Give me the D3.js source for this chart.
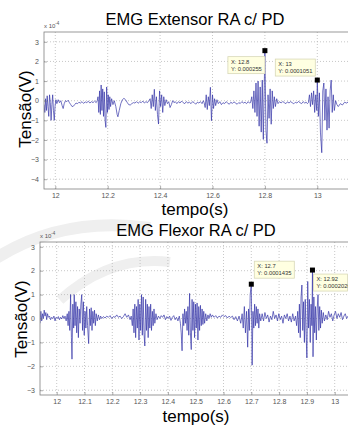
<!DOCTYPE html>
<html>
<head>
<meta charset="utf-8">
<script src="https://cdn.jsdelivr.net/npm/d3@7"></script>
<style>
  body { margin: 0; background: #fff; }
  svg { display: block; font-family: 'Liberation Sans', Arial, sans-serif; }
</style>
</head>
<body>
<div id="chart"></div>
<script>
// values in units of 1e-4 V, time in s
const extSignal = [
  [11.957,-0.2],[11.960,-0.6],[11.963,0.1],[11.966,-0.5],[11.969,0.25],[11.972,-0.3],[11.975,-0.8],[11.978,0.3],
  [11.981,-0.1],[11.984,-1.0],[11.987,-0.2],[11.990,0.3],[11.993,-0.5],[11.996,-1.0],[11.999,-0.3],[12.002,0.05],
  [12.006,-0.15],[12.011,0.05],[12.016,-0.1],[12.021,0.0],[12.026,-0.25],[12.030,-0.4],[12.034,-0.15],[12.039,0.0],
  [12.044,-0.05],[12.049,0.02],[12.054,-0.1],[12.059,-0.2],[12.064,-0.3],[12.069,-0.28],[12.074,-0.2],[12.079,-0.12],
  [12.085,-0.15],[12.090,-0.08],[12.096,-0.12],[12.102,-0.05],[12.108,-0.14],[12.114,-0.06],[12.120,-0.1],[12.126,-0.03],
  [12.132,-0.12],[12.138,-0.05],[12.144,-0.1],[12.150,-0.02],[12.156,-0.1],[12.160,0.0],
  [12.163,0.2],[12.166,-0.6],[12.169,0.5],[12.172,-0.7],[12.175,0.8],[12.178,-0.5],[12.181,0.6],[12.184,-0.8],
  [12.187,0.45],[12.190,-1.0],[12.193,-1.36],[12.196,0.7],[12.199,-0.6],[12.202,0.3],[12.205,-0.45],[12.208,0.2],
  [12.211,-0.3],[12.215,0.1],[12.220,-0.2],[12.225,0.0],[12.231,-0.3],[12.236,-0.7],[12.239,-0.82],[12.244,-0.5],
  [12.250,-0.15],[12.256,0.05],[12.262,0.12],[12.268,0.05],[12.274,-0.08],[12.280,-0.2],[12.286,-0.22],[12.292,-0.15],
  [12.298,-0.1],[12.304,-0.12],[12.310,-0.05],[12.316,-0.13],[12.322,-0.06],[12.328,-0.1],[12.334,-0.02],[12.340,-0.12],
  [12.346,-0.05],[12.352,-0.1],[12.357,0.0],
  [12.362,0.1],[12.366,-0.4],[12.370,0.3],[12.374,-0.3],[12.378,0.58],[12.382,-0.5],[12.386,0.2],[12.390,-0.7],
  [12.394,-1.19],[12.398,0.5],[12.402,-0.3],[12.406,0.3],[12.410,-0.6],[12.414,0.2],[12.418,-0.25],[12.423,0.05],
  [12.428,-0.15],[12.433,-0.05],[12.438,-0.35],[12.443,-0.2],[12.448,0.0],[12.453,-0.1],[12.458,-0.05],[12.464,-0.15],
  [12.470,-0.05],[12.476,-0.12],[12.482,-0.02],[12.488,-0.1],[12.494,-0.15],[12.500,-0.05],[12.506,-0.12],[12.512,-0.08],
  [12.518,-0.15],[12.524,-0.05],[12.530,-0.1],[12.536,-0.18],[12.542,-0.08],[12.548,-0.12],[12.554,-0.05],[12.560,-0.15],
  [12.565,0.0],
  [12.568,-0.1],[12.572,-0.35],[12.576,0.3],[12.580,-0.45],[12.584,0.2],[12.588,-0.25],[12.592,0.68],[12.596,-1.02],
  [12.600,0.3],[12.604,-0.4],[12.608,0.1],[12.612,-0.25],[12.617,0.05],[12.622,-0.15],[12.628,-0.05],[12.634,-0.2],
  [12.640,-0.1],[12.646,-0.15],[12.652,-0.05],[12.658,-0.12],[12.664,-0.18],[12.670,-0.08],[12.676,-0.14],[12.682,-0.06],
  [12.688,-0.12],[12.694,-0.18],[12.700,-0.1],[12.706,-0.14],[12.712,-0.05],[12.718,-0.12],[12.724,-0.08],[12.730,-0.15],
  [12.736,-0.05],[12.741,-0.12],
  [12.745,-0.1],[12.750,0.2],[12.754,-0.4],[12.758,0.5],[12.762,-0.6],[12.766,0.9],[12.770,-0.8],[12.774,1.0],
  [12.778,-1.3],[12.782,0.7],[12.786,-1.6],[12.790,1.05],[12.794,-1.97],[12.800,2.55],[12.804,-1.5],[12.808,-2.17],
  [12.812,0.3],[12.816,-0.9],[12.820,0.6],[12.824,-1.2],[12.828,0.5],[12.832,-0.4],[12.836,0.2],[12.840,-0.3],
  [12.845,0.1],[12.850,-0.15],[12.856,-0.05],[12.862,-0.12],[12.868,-0.04],[12.874,-0.1],[12.880,-0.15],[12.886,-0.06],
  [12.892,-0.12],[12.898,-0.05],[12.904,-0.1],[12.910,-0.16],[12.916,-0.08],[12.922,-0.12],[12.928,-0.04],[12.934,-0.1],
  [12.940,-0.15],[12.946,-0.05],[12.952,-0.12],[12.958,-0.08],[12.962,-0.15],
  [12.966,-0.1],[12.970,0.3],[12.974,-0.3],[12.978,0.4],[12.982,-0.2],[12.986,0.5],[12.990,-0.6],[12.994,0.3],
  [12.998,-0.5],[13.000,1.051],[13.004,-0.8],[13.008,0.4],[13.012,-1.6],[13.017,-2.65],[13.021,0.5],[13.025,0.9],
  [13.029,-1.0],[13.033,0.6],[13.037,-1.5],[13.041,0.2],[13.045,-1.4],[13.049,0.5],[13.053,1.05],[13.057,-0.6],
  [13.061,0.3],[13.065,-0.5],[13.070,0.0],[13.075,-0.2],[13.080,-0.3],[13.088,-0.15],[13.096,-0.22],[13.104,-0.08],
  [13.112,-0.12],[13.120,-0.05]
];

const flexSignal = [
  [11.940,-0.2],[11.943,0.3],[11.946,-0.1],[11.949,0.2],[11.952,0.0],[11.955,0.35],[11.958,0.1],[11.961,0.25],
  [11.964,-0.05],[11.967,0.2],[11.970,0.05],[11.974,0.1],[11.978,-0.05],[11.982,0.05],[11.986,0.0],[11.990,0.1],
  [11.994,-0.1],[11.998,0.05],[12.002,0.0],[12.006,0.08],[12.010,-0.05],[12.014,0.05],[12.018,-0.02],[12.022,0.12],
  [12.026,0.0],[12.030,0.1],[12.034,-0.1],[12.038,0.2],[12.041,-0.3],
  [12.044,0.3],[12.047,-0.5],[12.050,1.0],[12.053,-0.8],[12.055,-1.7],[12.058,0.6],[12.061,-0.4],[12.063,1.0],
  [12.066,-0.3],[12.069,0.7],[12.072,-0.6],[12.075,0.5],[12.078,-0.8],[12.081,0.4],[12.084,-0.2],[12.087,0.6],
  [12.090,1.0],[12.093,-0.5],[12.096,0.7],[12.099,-0.7],[12.102,0.3],[12.105,-0.4],[12.108,0.5],[12.111,-0.3],
  [12.115,-1.05],[12.118,0.4],[12.121,-0.3],[12.124,0.45],[12.127,-0.5],[12.130,0.3],[12.133,-0.2],[12.136,0.35],
  [12.139,-0.3],[12.142,0.2],[12.146,-0.1],[12.150,0.15],[12.154,-0.05],[12.158,0.1],[12.162,0.0],
  [12.168,0.08],[12.174,0.02],[12.180,0.1],[12.186,0.05],[12.192,0.12],[12.198,0.0],[12.204,0.08],[12.210,0.05],
  [12.216,0.15],[12.222,0.05],[12.228,0.1],[12.234,0.0],[12.240,0.08],[12.246,0.2],[12.252,0.05],[12.258,0.15],
  [12.264,-0.05],[12.268,0.1],
  [12.272,-0.3],[12.275,0.4],[12.278,-0.6],[12.281,0.6],[12.284,-0.8],[12.287,0.5],[12.290,-0.4],[12.293,0.8],
  [12.296,-0.9],[12.299,0.6],[12.302,-0.5],[12.305,1.0],[12.308,-0.7],[12.311,0.9],[12.314,-0.6],[12.317,-1.15],
  [12.320,0.8],[12.323,-0.5],[12.326,0.6],[12.329,-0.8],[12.332,0.5],[12.335,-0.4],[12.338,0.6],[12.341,-0.5],
  [12.344,0.3],[12.347,-0.3],[12.350,0.4],[12.353,-0.2],[12.357,0.2],[12.361,-0.05],
  [12.366,0.1],[12.371,0.0],[12.376,0.12],[12.381,0.05],[12.386,0.15],[12.391,-0.05],[12.396,0.08],[12.401,0.0],
  [12.406,0.1],[12.411,-0.08],[12.416,0.05],[12.421,0.12],[12.426,-0.05],[12.431,0.05],[12.436,-0.1],[12.441,0.1],
  [12.445,-0.2],
  [12.448,-0.6],[12.451,-1.35],[12.454,0.2],[12.457,-0.3],[12.460,0.4],[12.463,-0.2],[12.466,0.3],[12.469,-0.5],
  [12.472,0.5],[12.475,-0.7],[12.478,1.05],[12.481,-0.6],[12.484,-1.3],[12.487,0.8],[12.490,-0.5],[12.493,0.7],
  [12.496,-0.8],[12.499,0.6],[12.502,-0.4],[12.505,0.65],[12.508,-0.9],[12.511,0.5],[12.514,-0.5],[12.517,0.55],
  [12.520,-0.3],[12.523,0.4],[12.526,-0.25],[12.529,0.3],[12.532,-0.2],[12.536,0.2],[12.540,-0.1],[12.544,0.15],
  [12.548,0.0],[12.552,0.2],[12.556,0.05],[12.560,0.15],
  [12.566,0.05],[12.572,0.12],[12.578,0.02],[12.584,0.1],[12.590,0.05],[12.596,0.15],[12.602,0.08],[12.608,0.12],
  [12.614,0.02],[12.620,0.1],[12.626,0.04],[12.632,0.1],[12.638,-0.05],[12.644,0.08],[12.650,-0.1],[12.656,0.1],
  [12.662,-0.2],[12.667,0.2],
  [12.671,-0.4],[12.675,0.5],[12.679,-0.6],[12.683,0.3],[12.687,-1.2],[12.690,0.4],[12.693,-0.5],[12.696,1.0],
  [12.700,1.435],[12.703,-1.95],[12.706,0.3],[12.709,-0.4],[12.712,0.6],[12.715,-0.3],[12.718,0.5],[12.721,-0.2],
  [12.724,0.4],[12.727,-0.4],[12.730,0.2],[12.734,-0.1],
  [12.739,0.2],[12.744,-0.1],[12.749,0.25],[12.754,0.0],[12.759,0.15],[12.764,-0.15],[12.769,0.1],[12.774,-0.05],
  [12.779,0.3],[12.784,0.0],[12.789,0.15],[12.794,-0.1],[12.799,0.2],[12.804,-0.05],[12.809,0.1],[12.814,-0.2],
  [12.819,0.15],[12.824,0.0],[12.829,0.2],[12.834,-0.1],[12.839,0.1],[12.844,-0.15],[12.849,0.2],[12.854,-0.1],
  [12.859,0.1],[12.863,-0.3],
  [12.867,0.3],[12.870,-0.6],[12.873,0.6],[12.876,-0.8],[12.879,0.9],[12.882,1.4],[12.885,-0.5],[12.888,0.7],
  [12.891,-1.0],[12.894,0.8],[12.897,-0.6],[12.900,-1.65],[12.903,1.55],[12.906,-0.4],[12.909,0.8],[12.912,-1.0],
  [12.915,0.6],[12.918,-0.3],[12.920,2.03],[12.922,-1.6],[12.925,0.9],[12.928,-0.6],[12.931,0.5],[12.934,-0.9],
  [12.937,0.4],[12.940,1.0],[12.943,-0.5],[12.946,0.5],[12.949,-0.4],[12.952,0.35],[12.955,-0.2],[12.959,0.25],
  [12.963,-0.1],
  [12.968,0.15],[12.973,-0.05],[12.978,0.3],[12.983,0.05],[12.988,0.2],[12.993,-0.1],[12.998,0.15],[13.003,0.3],
  [13.008,0.0],[13.013,0.2],[13.018,0.05],[13.023,0.25],[13.028,-0.05],[13.033,0.1],[13.038,0.2],[13.043,0.0],
  [13.048,0.1],[13.052,0.05]
];

const extXTicks = [12, 12.2, 12.4, 12.6, 12.8, 13];
const extYTicks = [-4, -3, -2, -1, 0, 1, 2, 3];
const flexXTicks = [12, 12.1, 12.2, 12.3, 12.4, 12.5, 12.6, 12.7, 12.8, 12.9, 13];
const flexYTicks = [-3, -2, -1, 0, 1, 2, 3];

// data tips: [x, y (1e-4 V), Y label]
const extTips = [[12.8, 2.55, '0.000255'], [13, 1.051, '0.0001051']];
const flexTips = [[12.7, 1.435, '0.0001435'], [12.92, 2.026, '0.0002026']];

const W = 348, H = 427;
const svg = d3.select('#chart').append('svg').attr('width', W).attr('height', H);

// faint publisher watermark shapes behind the lower plot
const wm = svg.append('g').attr('fill', 'none').attr('stroke', '#efefef');
wm.append('path').attr('d', 'M -10 262 Q 60 215 150 228').attr('stroke-width', 12);
wm.append('path').attr('d', 'M 60 300 Q 110 255 170 262').attr('stroke-width', 10);

function drawPanel(cfg) {
  const x = d3.scaleLinear().domain([12, 13]).range(cfg.xr);
  const y = d3.scaleLinear().domain(cfg.yd).range([cfg.bottom, cfg.top]);
  const g = svg.append('g');

  const clipId = 'clip' + cfg.id;
  svg.append('clipPath').attr('id', clipId)
    .append('rect')
    .attr('x', cfg.left).attr('y', cfg.top)
    .attr('width', cfg.right - cfg.left).attr('height', cfg.bottom - cfg.top);

  // grid
  g.selectAll('.gx').data(cfg.xTicks).join('line')
    .attr('x1', (d) => x(d)).attr('x2', (d) => x(d))
    .attr('y1', cfg.top).attr('y2', cfg.bottom)
    .attr('stroke', '#b0b0b0').attr('stroke-width', 0.7)
    .attr('stroke-dasharray', '1,2');
  g.selectAll('.gy').data(cfg.yTicks).join('line')
    .attr('x1', cfg.left).attr('x2', cfg.right)
    .attr('y1', (d) => y(d)).attr('y2', (d) => y(d))
    .attr('stroke', '#b0b0b0').attr('stroke-width', 0.7)
    .attr('stroke-dasharray', '1,2');

  // signal
  const line = d3.line().x((d) => x(d[0])).y((d) => y(d[1]));
  g.append('path')
    .datum(cfg.signal)
    .attr('clip-path', `url(#${clipId})`)
    .attr('fill', 'none')
    .attr('stroke', '#3535a8')
    .attr('stroke-width', 0.7)
    .attr('stroke-linejoin', 'round')
    .attr('d', line);

  // axes (ticks inward, labels outside)
  const axX = g.append('g')
    .attr('transform', `translate(0,${cfg.bottom})`)
    .call(d3.axisBottom(x).tickValues(cfg.xTicks).tickSizeInner(-3).tickSizeOuter(0)
      .tickPadding(4).tickFormat(d3.format('~g')));
  const axY = g.append('g')
    .attr('transform', `translate(${cfg.left},0)`)
    .call(d3.axisLeft(y).tickValues(cfg.yTicks).tickSizeInner(-3).tickSizeOuter(0)
      .tickPadding(5).tickFormat(d3.format('~g')));
  [axX, axY].forEach((a) => {
    a.select('.domain').remove();
    a.selectAll('line').attr('stroke', '#777').attr('stroke-width', 0.6);
    a.selectAll('text').attr('fill', '#555').attr('font-size', 7)
      .attr('font-family', 'Liberation Sans, Arial, sans-serif');
  });

  // box
  g.append('rect')
    .attr('x', cfg.left).attr('y', cfg.top)
    .attr('width', cfg.right - cfg.left).attr('height', cfg.bottom - cfg.top)
    .attr('fill', 'none').attr('stroke', '#808080').attr('stroke-width', 0.8);

  // exponent label
  const ex = g.append('text').attr('x', cfg.left).attr('y', cfg.top - 4)
    .attr('font-size', 6).attr('fill', '#555');
  ex.append('tspan').text('x 10');
  ex.append('tspan').attr('dy', -3).attr('font-size', 4.5).text('-4');

  // title, labels
  g.append('text').attr('x', cfg.titleX).attr('y', cfg.titleY)
    .attr('text-anchor', 'middle').attr('font-size', 16.5).attr('fill', '#000')
    .text(cfg.title);
  g.append('text').attr('x', cfg.titleX).attr('y', cfg.xlabY)
    .attr('text-anchor', 'middle').attr('font-size', 17).attr('fill', '#000')
    .text('tempo(s)');
  g.append('text')
    .attr('transform', `translate(${cfg.ylabX},${cfg.ylabY}) rotate(-90)`)
    .attr('text-anchor', 'middle').attr('font-size', 17).attr('fill', '#000')
    .text('Tensão(V)');

  // data tips
  cfg.tips.forEach((t, i) => {
    const mx = x(t[0]), my = y(t[1]);
    const [dx, dy, bw] = cfg.tipPlace[i];
    const bh = 17;
    const tg = g.append('g').attr('transform', `translate(${mx + dx},${my + dy})`);
    tg.append('rect').attr('width', bw).attr('height', bh)
      .attr('fill', '#ffffe1').attr('stroke', '#d8d8b8').attr('stroke-width', 0.8);
    tg.append('text').attr('x', 3).attr('y', 7).attr('font-size', 5.8).attr('fill', '#333')
      .text('X: ' + d3.format('~g')(t[0]));
    tg.append('text').attr('x', 3).attr('y', 14).attr('font-size', 5.8).attr('fill', '#333')
      .text('Y: ' + t[2]);
    g.append('rect').attr('x', mx - 2.5).attr('y', my - 2.5)
      .attr('width', 5).attr('height', 5).attr('fill', '#000');
  });
}

drawPanel({
  id: 'ext', signal: extSignal, xTicks: extXTicks, yTicks: extYTicks,
  xr: [55.3, 317.3], yd: [-4.5, 3.5],
  left: 44, right: 352, top: 32, bottom: 189,
  title: 'EMG Extensor RA c/ PD', titleX: 195, titleY: 25, xlabY: 215,
  ylabX: 31, ylabY: 109,
  tips: extTips, tipPlace: [[-37, 6, 37], [-42, -21, 40]]
});

drawPanel({
  id: 'flex', signal: flexSignal, xTicks: flexXTicks, yTicks: flexYTicks,
  xr: [56.7, 334.7], yd: [-3.2, 3.2],
  left: 40, right: 352, top: 242, bottom: 395,
  title: 'EMG Flexor RA c/ PD', titleX: 196, titleY: 235.5, xlabY: 422,
  ylabX: 27, ylabY: 319,
  tips: flexTips, tipPlace: [[3, -23, 40], [1, 4, 34]]
});
</script>
</body>
</html>
